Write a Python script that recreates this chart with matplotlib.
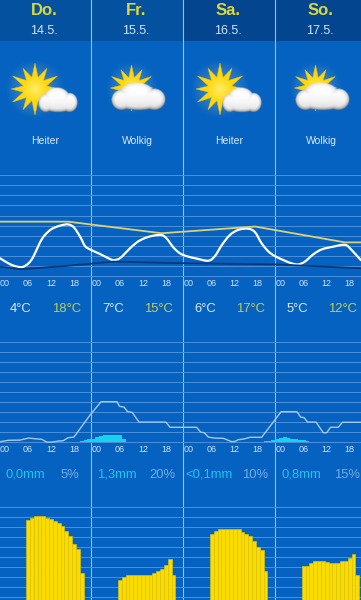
import numpy as np
import matplotlib
matplotlib.use('Agg')
import matplotlib.pyplot as plt
from matplotlib.patches import Polygon, PathPatch
from matplotlib.path import Path

plt.rcParams['font.family'] = ['Liberation Sans', 'DejaVu Sans']

# text per day
days = ['Do.', 'Fr.', 'Sa.', 'So.']
dates = ['14.5.', '15.5.', '16.5.', '17.5.']
conditions = ['Heiter', 'Wolkig', 'Heiter', 'Wolkig']
temp_min_labels = ['4°C', '7°C', '6°C', '5°C']
temp_max_labels = ['18°C', '15°C', '17°C', '12°C']
rain_labels = ['0,0mm', '1,3mm', '<0,1mm', '0,8mm']
prob_labels = ['5%', '20%', '10%', '15%']

# hours counted from Thursday 00:00
tick_hours = [0, 6, 12, 18, 24, 30, 36, 42, 48, 54, 60, 66, 72, 78, 84, 90]
tick_labels = ['00', '06', '12', '18'] * 4

temp_hours = [-1.3, 0.4, 2.2, 4.4, 6.1, 7.4, 9.1, 10.4, 12.2, 14.4, 16.5, 18.0, 19.6, 20.9, 22.2,
              24.8, 27.0, 28.3, 30.0, 32.2, 34.4, 36.5, 38.7, 40.9, 42.2, 44.0, 45.7,
              47.4, 50.0, 53.1, 54.8, 56.6, 58.7, 60.9, 63.5, 65.3, 67.0, 68.8, 70.5,
              72.7, 74.9, 76.6, 78.3, 80.5, 82.7, 85.7, 88.8, 90.5, 92.9]
temp_values = [6.8, 5.5, 4.4, 3.9, 5.1, 7.3, 11.9, 14.4, 16.4, 17.5, 17.9, 16.9, 13.9, 10.8, 9.7,
               8.2, 6.8, 6.2, 6.8, 9.5, 12.0, 13.4, 14.2, 14.4, 13.3, 10.3, 8.4,
               7.5, 6.7, 6.0, 7.5, 11.1, 14.4, 16.1, 16.5, 15.3, 11.7, 9.0, 7.5,
               6.2, 5.1, 4.8, 5.7, 8.1, 9.7, 10.6, 11.2, 9.5, 6.2]

upper_hours = [-1.3, 16.5, 40.9, 65.3, 88.8, 92.9]
upper_values = [18.8, 18.8, 15.0, 17.2, 12.0, 12.0]

lower_hours = [-1.3, 4.4, 16.0, 28.3, 45.7, 70.5, 92.9]
lower_values = [4.0, 3.2, 4.3, 5.7, 5.2, 4.8, 3.5]

prob_hours = [-1.3, 0.9, 3.9, 6.1, 7.8, 9.6, 10.9, 12.2, 13.9, 15.2, 16.5, 18.0, 22.2, 25.1, 29.2,
              29.9, 31.1, 32.0, 33.2, 35.0, 42.0, 43.1, 50.0, 51.1, 52.0, 53.1, 54.8, 57.0, 59.2,
              60.1, 60.9, 62.2, 64.0, 67.0, 72.1, 76.2, 77.2, 78.1, 79.0, 81.2, 83.1, 84.0, 85.0,
              87.0, 88.1, 92.9]
prob_values = [0, 0.7, 0.8, 1.8, 1.5, 1.2, -0.2, -0.2, 0.3, 0.5, 2.0, 2.3, 13.3, 20, 20,
               17.7, 17.3, 15, 14.7, 9.8, 9.8, 7.2, 7.2, 4.8, 4.5, 2.3, 1.8, 1.7, 0,
               0.2, 1.0, 1.3, 2.2, 2.2, 15, 15, 12.3, 12, 9.8, 9.8, 4.5, 4.5, 7.2,
               7.2, 9.7, 9.7]

rain_hours = [20, 21, 22, 23, 24, 25, 26, 27, 28, 29, 30, 31,
              68, 69, 70, 71, 72, 73, 74, 75, 76, 77, 78, 79]
rain_values = [0.02, 0.04, 0.06, 0.08, 0.11, 0.14, 0.16, 0.18, 0.18, 0.18, 0.16, 0.08,
               0.02, 0.03, 0.05, 0.07, 0.09, 0.13, 0.09, 0.07, 0.06, 0.05, 0.04, 0.02]

sun_hours = list(range(6, 21)) + list(range(30, 45)) + list(range(54, 69)) + list(range(78, 93))
sun_values = [80, 82.3, 84, 84, 84, 82.3, 80.7, 78.7, 77.3, 74, 69.3, 64, 55.7, 50.7, 26.7,
              20, 23.3, 25, 25, 25, 25, 25, 25, 25, 26.7, 29, 30.7, 35, 40.7, 25,
              65.7, 69, 70.7, 70.7, 70.7, 70.7, 70.7, 70.7, 68.3, 65.7, 64, 59, 53.3, 50, 29,
              34, 34, 37.3, 39, 39, 39, 37.7, 37.3, 37.3, 37.3, 38.7, 38.7, 41.7, 45.7, 25]

temp_grid = [1, 4.3, 7.6, 10.9, 14.2, 17.5, 20.8, 24.1, 27.4, 30.7, 34]
prob_grid = [0, 5, 10, 15, 20, 25, 30, 35, 40, 45, 50]
sun_grid = [3, 13, 23, 33, 43, 53, 63, 73, 83, 93]

BLUE = '#0562c0'
GRID = '#4b90dc'
SEP = '#94c0ee'
HOUR_LIM = (-1.305, 92.95)


def panel(fig, top, bottom, ylim, grid):
    ax = fig.add_axes([0, 1 - bottom / 600, 1, (bottom - top) / 600])
    ax.patch.set_alpha(0)
    ax.set_xlim(*HOUR_LIM)
    ax.set_ylim(*ylim)
    ax.set_yticks(grid)
    ax.set_yticklabels([])
    ax.tick_params(length=0)
    ax.grid(axis='y', color=GRID, lw=0.7)
    ax.set_axisbelow(True)
    for s in ax.spines.values():
        s.set_visible(False)
    return ax


def smooth_path(xs, ys):
    # bezier through the read points, only to round the drawn corners
    p = np.c_[xs, ys]
    t = np.gradient(p, axis=0)
    verts = [p[0]]
    codes = [Path.MOVETO]
    for i in range(len(p) - 1):
        verts += [p[i] + t[i] / 3, p[i + 1] - t[i + 1] / 3, p[i + 1]]
        codes += [Path.CURVE4] * 3
    return Path(verts, codes)


def draw_sun(ax, cx, cy, r):
    # glow behind the star
    yy, xx = np.mgrid[-1.3:1.3:160j, -1.3:1.3:160j]
    d = np.hypot(xx, yy)
    glow = np.zeros(d.shape + (4,))
    glow[..., :3] = [1, 1, 0.85]
    glow[..., 3] = np.clip(1.15 - d, 0, 1) * 0.3
    ax.imshow(glow, extent=(cx - 1.3 * r, cx + 1.3 * r, cy + 1.3 * r, cy - 1.3 * r), aspect='auto', zorder=2)
    ang = np.radians(np.arange(0, 360, 15))
    rad = np.full(24, r * 0.46)
    rad[0::2] = r * 0.92
    rad[0::4] = r
    pts = np.c_[cx + rad * np.sin(ang), cy - rad * np.cos(ang)]
    star = Polygon(pts, closed=True, fc='#ffd60a', ec='#f7c600', lw=0.3, zorder=3)
    ax.add_patch(star)
    # lighter middle, clipped to the star
    yy, xx = np.mgrid[-1:1:160j, -1:1:160j]
    d = np.hypot(xx, yy)
    core = np.zeros(d.shape + (4,))
    core[..., 0] = 1
    core[..., 1] = 0.94
    core[..., 2] = 0.45
    core[..., 3] = np.clip(1 - d * 1.9, 0, 1) * 0.9
    im = ax.imshow(core, extent=(cx - r, cx + r, cy + r, cy - r), aspect='auto', zorder=4)
    im.set_clip_path(star)


def draw_cloud(ax, x0, y0, x1, y1):
    blobs = [(0.19, 0.62, 0.19, 0.37), (0.47, 0.40, 0.33, 0.40),
             (0.79, 0.60, 0.21, 0.39), (0.50, 0.66, 0.46, 0.33)]
    yy, xx = np.mgrid[0:1:240j, 0:1:240j]
    rmin = np.min([np.hypot((xx - b[0]) / b[2], (yy - b[1]) / b[3]) for b in blobs], axis=0)
    shade = 1 - 0.38 * np.clip((rmin - 0.5) / 0.5, 0, 1) ** 2 * (0.3 + yy) - 0.18 * yy ** 3
    img = np.zeros(rmin.shape + (4,))
    img[..., 0] = shade
    img[..., 1] = shade
    img[..., 2] = shade
    img[..., 3] = np.clip((1 - rmin) * 9, 0, 1)
    ax.imshow(img, extent=(x0, x1, y1, y0), aspect='auto', zorder=5, interpolation='antialiased')


fig = plt.figure(figsize=(3.61, 6), dpi=100, facecolor=BLUE)

# page layer in pixel coordinates: header, day separators, icons, labels
page = fig.add_axes([0, 0, 1, 1])
page.set_facecolor(BLUE)
page.axis('off')
page.fill_between([0, 182.5], 0, 41, color='#04529f', lw=0)
page.fill_between([182.5, 361], 0, 41, color='#044590', lw=0)
for sx in [90.5, 182.5, 274.5]:
    page.plot([sx, sx], [0, 600], color=SEP, lw=0.8, zorder=6)

offs = [0, 92, 184, 276]
for i, off in enumerate(offs):
    page.text(44 + off, 10.7, days[i], color='#dcd83a', fontsize=12, fontweight='bold', ha='center', va='center')
    page.text(44 + off, 30.5, dates[i], color='#d3e4f5', fontsize=9, ha='center', va='center')
    page.text(45 + off, 141.5, conditions[i], color='#dbe9f7', fontsize=7.5, ha='center', va='center')

draw_sun(page, 35, 89, 26)
draw_cloud(page, 38, 87, 78, 113)
draw_sun(page, 131.5, 88, 23)
draw_cloud(page, 111, 82, 166, 111)
draw_sun(page, 220, 89, 26)
draw_cloud(page, 222, 87, 262, 113)
draw_sun(page, 315.5, 88, 23)
draw_cloud(page, 295, 82, 350, 111)

min_x = [20.7, 113, 205, 297.3]
max_x = [66.7, 158.7, 250.7, 342.7]
rain_x = [25, 117, 209.3, 301.7]
prob_x = [70, 162.3, 255, 346.7]
for i in range(4):
    page.text(min_x[i], 309, temp_min_labels[i], color='#dbe9f7', fontsize=9.4, ha='center', va='center')
    page.text(max_x[i], 309, temp_max_labels[i], color='#c4cf52', fontsize=9.4, ha='center', va='center')
    page.text(rain_x[i], 474.7, rain_labels[i], color='#22c4ee', fontsize=9.4, ha='center', va='center')
    page.text(prob_x[i], 474.7, prob_labels[i], color='#74ace4', fontsize=9.4, ha='center', va='center')

page.set_xlim(0, 361)
page.set_ylim(600, 0)

# temperature panel, 3.05 px per degree
ax = panel(fig, 170, 277.5, (0.49, 35.74), temp_grid)
ax.plot(lower_hours, lower_values, color='#07397a', lw=1.3)
ax.plot(upper_hours, upper_values, color='#d9d277', lw=1.3)
ax.add_patch(PathPatch(smooth_path(temp_hours, temp_values), fc='none', ec='white', lw=1.6, capstyle='round'))
ax.set_xticks(tick_hours)
ax.set_xticklabels(tick_labels, fontsize=6.5, color='#d3e4f5')
ax.tick_params(axis='x', pad=1.2)

# rain probability panel, rain amounts share the same baseline
ax = panel(fig, 335, 443, (-0.65, 53.35), prob_grid)
mm = ax.twinx()
mm.patch.set_alpha(0)
mm.set_ylim(-0.65 * 2 / 38.9, 53.35 * 2 / 38.9)
mm.set_yticks([])
for s in mm.spines.values():
    s.set_visible(False)
mm.bar(rain_hours, rain_values, width=1, color='#16d2ee', lw=0)
ax.set_zorder(mm.get_zorder() + 1)
ax.plot(prob_hours, prob_values, color='#a9c9ea', lw=1.0)
ax.set_xticks(tick_hours)
ax.set_xticklabels(tick_labels, fontsize=6.5, color='#d3e4f5')
ax.tick_params(axis='x', pad=1.2)

# sunshine panel
ax = panel(fig, 500, 600, (0, 100), sun_grid)
ax.bar(sun_hours, sun_values, width=1, color='#fbdc00', edgecolor='#e8c400', lw=0.4)
ax.set_xticks([])

fig.savefig('out.png', dpi=100, facecolor=BLUE)
